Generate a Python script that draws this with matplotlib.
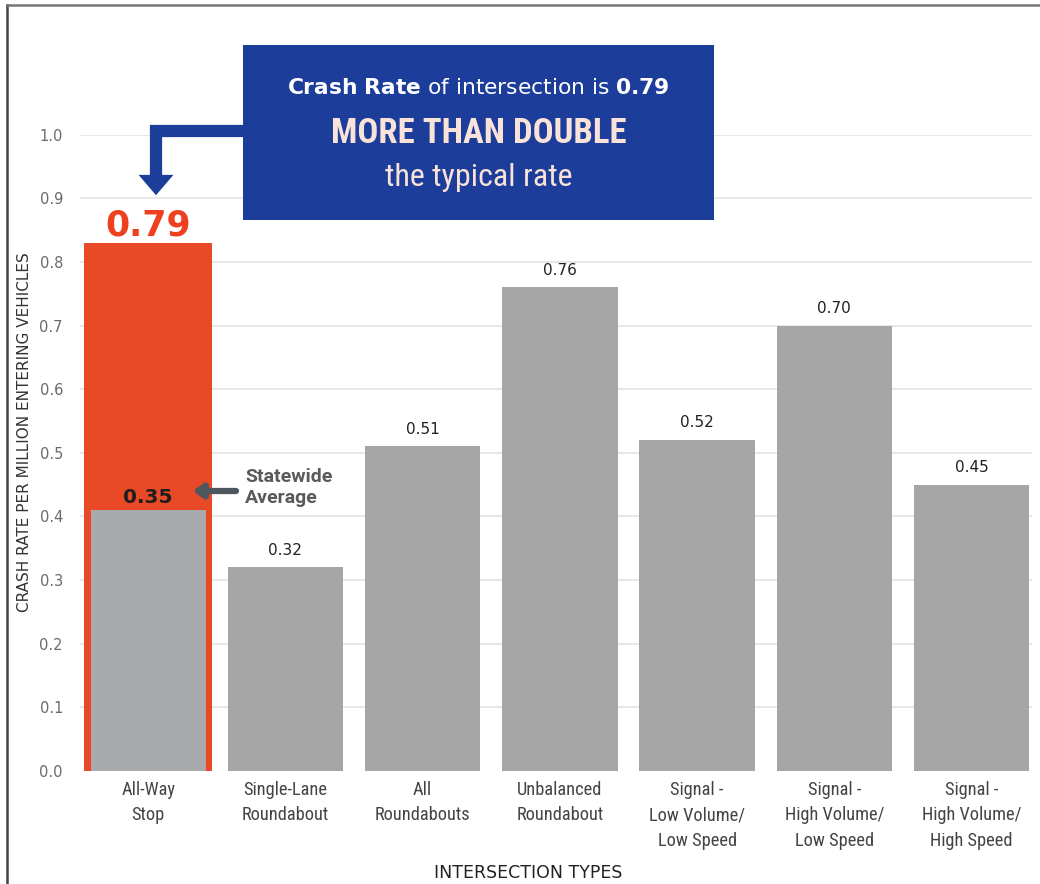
import numpy as np
import matplotlib
matplotlib.use("Agg")
import matplotlib.pyplot as plt
from matplotlib.patches import Rectangle, Polygon
from matplotlib.lines import Line2D

# data
categories = ["All-Way\nStop", "Single-Lane\nRoundabout", "All\nRoundabouts",
              "Unbalanced\nRoundabout", "Signal -\nLow Volume/\nLow Speed",
              "Signal -\nHigh Volume/\nLow Speed", "Signal -\nHigh Volume/\nHigh Speed"]
bar_heights = [0.83, 0.32, 0.51, 0.76, 0.52, 0.70, 0.45]
value_labels = ["0.79", "0.32", "0.51", "0.76", "0.52", "0.70", "0.45"]
avg_bar_height = 0.41
avg_label = "0.35"
yticks = [0.0, 0.1, 0.2, 0.3, 0.4, 0.5, 0.6, 0.7, 0.8, 0.9, 1.0]

RED = "#E84A27"
GREY = "#A6A6A6"
BLUE = "#1C3D9A"
PEACH = "#F9E3D8"
NARROW = ["Roboto Condensed", "DejaVu Sans Condensed", "Liberation Sans Narrow", "Roboto"]

plt.rcParams["font.family"] = ["DejaVu Sans"]

fig = plt.figure(figsize=(10.4, 8.84), dpi=100)
ax = fig.add_axes([0.0765, 0.128, 0.9158, 0.7195])
x = np.arange(len(categories))

for y in yticks[1:]:
    ax.axhline(y, color="#E3E3E3", lw=1.2, zorder=0)

# highlighted bar with the statewide average inside
ax.bar(x[0], bar_heights[0], width=0.93, color=RED, zorder=2)
ax.bar(x[0], avg_bar_height, width=0.84, color="#A9AAAE", zorder=3)
ax.bar(x[1:], bar_heights[1:], width=0.84, color=GREY, zorder=2)

for xi, h, lab in zip(x[1:], bar_heights[1:], value_labels[1:]):
    ax.annotate(lab, xy=(xi, h), xytext=(0, 7), textcoords="offset points",
                ha="center", va="bottom", fontsize=11, color="#222222")

ax.annotate(value_labels[0], xy=(x[0], bar_heights[0]), xytext=(0, 5),
            textcoords="offset points", ha="center", va="baseline",
            fontsize=25, fontweight="bold", color="#EE3F1E", annotation_clip=False)
ax.annotate(avg_label, xy=(x[0], avg_bar_height), xytext=(0, 5),
            textcoords="offset points", ha="center", va="baseline",
            fontsize=14.5, fontweight="bold", color="#1e1e1e", zorder=4)

# statewide average pointer
ax.annotate("", xy=(0.326, 0.440), xytext=(0.64, 0.440),
            arrowprops=dict(arrowstyle="-|>,head_length=0.55,head_width=0.4",
                            lw=4.5, color="#4E5660", shrinkA=0, shrinkB=0), zorder=4)
ax.text(0.705, 0.445, "Statewide\nAverage", ha="left", va="center", fontsize=14,
        fontweight="bold", color="#5a5a5a", linespacing=1.22, family="Roboto")

# call-out box
ax.add_patch(Rectangle((0.690, 0.866), 3.431, 0.275, facecolor=BLUE,
                       edgecolor="none", clip_on=False, zorder=5))
ax.add_line(Line2D([0.70, 0.057, 0.057], [1.006, 1.006, 0.935], color=BLUE,
                   lw=8.8, solid_joinstyle="miter", solid_capstyle="butt",
                   clip_on=False, zorder=5))
ax.add_patch(Polygon([[-0.07, 0.937], [0.184, 0.937], [0.057, 0.905]],
                     closed=True, facecolor=BLUE, edgecolor="none", clip_on=False, zorder=5))
ax.text(2.406, 1.073, r"$\mathbf{Crash\ Rate}$ of intersection is $\mathbf{0.79}$",
        ha="center", va="center", fontsize=15.7, color="white", zorder=6)
ax.text(2.406, 1.002, "MORE THAN DOUBLE", ha="center", va="center", fontsize=25,
        fontweight="bold", color=PEACH, family=NARROW, zorder=6)
ax.text(2.406, 0.933, "the typical rate", ha="center", va="center", fontsize=23,
        color=PEACH, family=NARROW, zorder=6)

ax.set_xlim(-0.5, 6.44)
ax.set_ylim(0, 1.0)
ax.set_yticks(yticks)
ax.set_yticklabels([f"{v:.1f}" for v in yticks], fontsize=10.5, color="#6A6A6A")
ax.set_xticks(x)
ax.set_xticklabels(categories, fontsize=13.2, color="#444444", family=NARROW,
                   linespacing=1.55)
ax.tick_params(axis="y", length=0, pad=12)
ax.tick_params(axis="x", length=0, pad=7)
for s in ax.spines.values():
    s.set_visible(False)

ax.set_xlabel("INTERSECTION TYPES", fontsize=12.5, color="#222222")
ax.xaxis.set_label_coords(0.471, -0.147)
ax.set_ylabel("CRASH RATE PER MILLION ENTERING VEHICLES", fontsize=11,
              color="#333333", va="center")
ax.yaxis.set_label_coords(-0.058, 0.533)

# frame edges of the original graphic
fig.add_artist(Line2D([0.0067, 0.0067], [0, 0.994], color="#444444", lw=1.8))
fig.add_artist(Line2D([0.0067, 1.0], [0.994, 0.994], color="#777777", lw=1.8))

fig.savefig("out.png", dpi=100)
